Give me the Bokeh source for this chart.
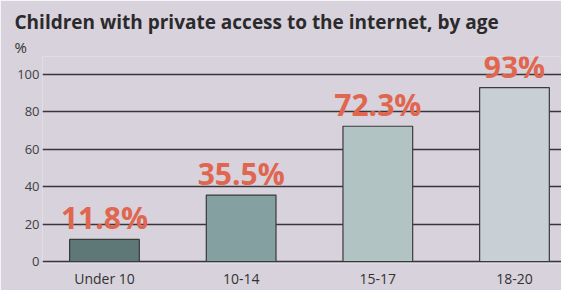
from bokeh.plotting import figure
from bokeh.models import Range1d, FixedTicker, ColumnDataSource, LabelSet, Title
from bokeh.embed import file_html
from bokeh.resources import INLINE
from bokeh.core.properties import value

categories = ["Under 10", "10-14", "15-17", "18-20"]
shares = [11.8, 35.5, 72.3, 93.0]
value_labels = ["11.8%", "35.5%", "72.3%", "93%"]
bar_colors = ["#5e7878", "#85a0a1", "#b2c3c4", "#c8d0d5"]
y_ticks = [0, 20, 40, 60, 80, 100]

xs = list(range(len(categories)))
src = ColumnDataSource(dict(x=xs, top=shares, label=value_labels, color=bar_colors))

paper = "#d7d2db"
p = figure(width=561, height=290, output_backend="svg", toolbar_location=None,
           x_range=Range1d(-0.4535, 3.344), y_range=Range1d(-1.07, 109.6),
           min_border_left=42, min_border_right=0, min_border_top=56,
           min_border_bottom=26)
p.background_fill_color = paper
p.border_fill_color = paper
p.outline_line_color = None

p.title.text = "Children with private access to the internet, by age"
p.title.text_font = "Open Sans"
p.title.text_font_size = "19px"
p.title.text_font_style = "bold"
p.title.text_color = "#2b2a2c"
p.title.align = "left"
p.title.offset = -28
p.title.standoff = 0

pct = Title(text="%", align="left", offset=-28, text_font="Open Sans",
            text_font_size="15px", text_font_style="normal",
            text_color="#333333", standoff=0)
p.add_layout(pct, "above")

p.vbar(x="x", top="top", bottom=0, width=0.51, fill_color="color",
       line_color="#3a3a3a", line_width=1.2, source=src)

labels = LabelSet(x="x", y="top", text="label", source=src, y_offset=10,
                  text_align="center", text_baseline="alphabetic",
                  text_font=value("Open Sans"), text_font_size=value("30px"),
                  text_font_style=value("bold"), text_color=value("#e06650"))
p.add_layout(labels)

p.xgrid.visible = False
p.ygrid.ticker = FixedTicker(ticks=y_ticks)
p.ygrid.grid_line_color = "#38363a"
p.ygrid.grid_line_width = 1.3

for ax in (p.xaxis[0], p.yaxis[0]):
    ax.axis_line_color = None
    ax.major_tick_line_color = None
    ax.minor_tick_line_color = None
    ax.major_tick_out = 0
    ax.major_tick_in = 0
    ax.minor_tick_out = 0
    ax.minor_tick_in = 0
    ax.major_label_text_font = "Open Sans"

p.yaxis.ticker = FixedTicker(ticks=y_ticks)
p.yaxis.major_label_standoff = 3
p.yaxis.major_label_text_font_size = "13px"
p.yaxis.major_label_text_color = "#3f3f3f"

p.xaxis.ticker = FixedTicker(ticks=xs)
p.xaxis.major_label_overrides = {i: c for i, c in enumerate(categories)}
p.xaxis.major_label_standoff = 5
p.xaxis.major_label_text_font_size = "14px"
p.xaxis.major_label_text_color = "#333333"

open("out.html", "w").write(file_html(p, INLINE))
